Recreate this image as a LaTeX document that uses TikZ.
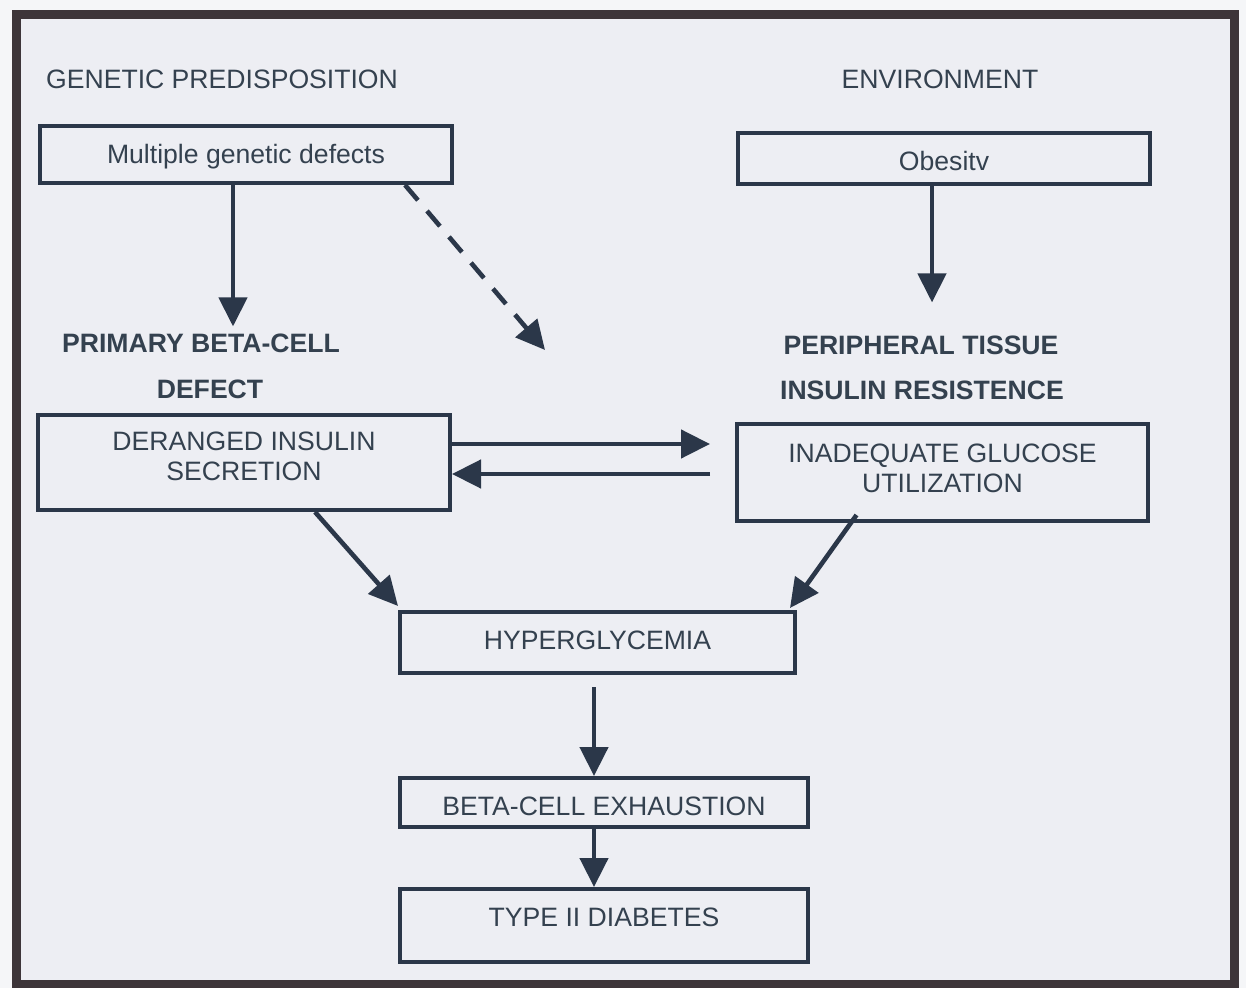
\documentclass[tikz,border=0pt]{standalone}
\usepackage{fontspec}
\setmainfont{Liberation Sans}
\usetikzlibrary{positioning, calc, arrows.meta}
\definecolor{ink}{HTML}{2B3749}
\definecolor{txt}{HTML}{34414F}
\definecolor{frame}{HTML}{3D3539}
\definecolor{marble}{HTML}{EDEEF3}
\definecolor{paper}{HTML}{F5F6F8}

\begin{document}
\begin{tikzpicture}[
					x=0.5pt, y=-0.5pt,
					every node/.style={text=txt, font=\fontsize{13.3}{15}\selectfont, text height=9.5pt, text depth=0pt},
					box/.style={draw=ink, line width=2pt, inner sep=0pt, align=center},
					title/.style={font=\fontsize{13.3}{15}\selectfont\bfseries},
					arrow/.style={draw=ink, line width=2.3pt, -{Triangle[length=14.5pt, width=14pt]}}
					]
					\useasboundingbox (0,0) rectangle (1246,988);
					\fill[paper] (0,0) rectangle (1246,988);
					\draw[frame, line width=4.5pt, fill=marble] (16,15) rectangle (1234,984);
					\node (genetic) at (222,79) {GENETIC PREDISPOSITION};
					\node (environ) at (940,79) {ENVIRONMENT};
					\node[box, minimum width=206pt, minimum height=28.5pt] (genes) at (246,154.5) {Multiple genetic defects};
					\node[box, minimum width=206pt, minimum height=25.5pt, text height=12.5pt] (obesity) at (944,158.5) {Obesitv};
					\node[title] (primary) at (201,343) {PRIMARY BETA-CELL};
					\node[title] (defect) at (210,389) {DEFECT};
					\node[title] (peripheral) at (921,345) {PERIPHERAL TISSUE};
					\node[title] (resist) at (922,390) {INSULIN RESISTENCE};
					\node[box, minimum width=206pt, minimum height=47.5pt, text height=21.5pt, text depth=3.5pt] (derange) at (244,462.5) {DERANGED INSULIN\\SECRETION};
					\node[box, minimum width=205.5pt, minimum height=48.5pt, text height=22.5pt, text depth=2.5pt] (inadequate) at (942.5,472.5) {INADEQUATE GLUCOSE\\UTILIZATION};
					\node[box, minimum width=197.5pt, minimum height=30.5pt, text depth=2.5pt] (hyper) at (597.5,642.5) {HYPERGLYCEMIA};
					\node[box, minimum width=204pt, minimum height=24.5pt, text height=12.5pt] (exhaust) at (604,802.5) {BETA-CELL EXHAUSTION};
					\node[box, minimum width=204pt, minimum height=36.5pt, text depth=9pt] (diabetes) at (604,925.5) {TYPE II DIABETES};
					\coordinate (drift) at (545,350);
					\draw[arrow] ([xshift=-6.5pt]genes.south) -- ([xshift=-6.5pt]genes.south |- primary.north);
					\draw[arrow, shorten >=13pt] ([xshift=-6pt]obesity.south) -- ([xshift=-6pt]obesity.south |- peripheral.north);
					\draw[arrow, dash pattern=on 10pt off 7pt] ([xshift=-24.5pt]genes.south east) -- (drift);
					\draw[arrow, shorten >=12.5pt] ([yshift=9.25pt]derange.east) -- ([yshift=9.25pt]derange.east -| inadequate.west);
					\draw[arrow, shorten <=12.5pt] ([yshift=-5.75pt]derange.east -| inadequate.west) -- ([yshift=-5.75pt]derange.east);
					\draw[arrow] ([xshift=35.5pt]derange.south) -- ([yshift=2pt]hyper.north west);
					\draw[arrow] ([xshift=-43pt, yshift=4pt]inadequate.south) -- ([xshift=-3.5pt, yshift=1pt]hyper.north east);
					\draw[arrow, shorten <=6pt] ([xshift=-1.75pt]hyper.south) -- ([xshift=-1.75pt]hyper.south |- exhaust.north);
					\draw[arrow] ([xshift=-1.75pt]hyper.south |- exhaust.south) -- ([xshift=-1.75pt]hyper.south |- diabetes.north);
				\end{tikzpicture}
\end{document}
